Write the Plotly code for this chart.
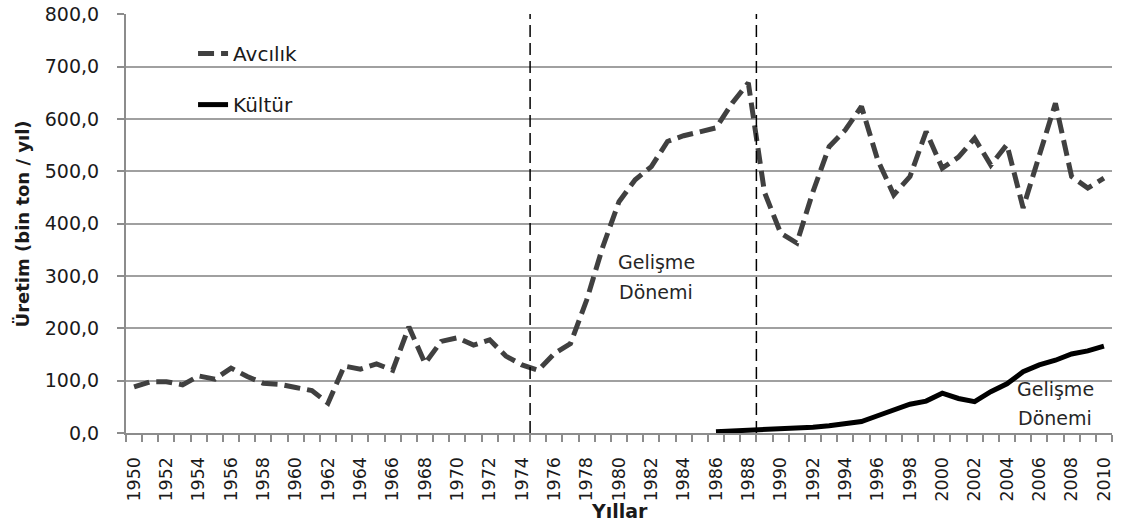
import plotly.graph_objects as go

# ---- data ----
years = list(range(1950, 2011))
avcilik = [88, 98, 98, 92, 109, 103, 124, 108, 95, 93,
           87, 81, 57, 128, 122, 132, 120, 203, 133, 175,
           182, 168, 178, 147, 130, 120, 152, 171, 254, 356,
           442, 484, 509, 557, 568, 576, 583, 630, 669, 460,
           382, 363, 461, 547, 579, 624, 522, 455, 490, 576,
           506, 527, 563, 512, 551, 430, 532, 630, 490, 468, 487]
kultur_years = list(range(1986, 2011))
kultur = [2.5, 3.8, 5, 6, 7.5, 9, 11, 14, 17, 22,
          33, 43, 55, 61, 76, 66, 60, 79, 94, 117,
          130, 139, 151, 157, 166]
tick_years = list(range(1950, 2011, 2))
period_bounds = [1974.5, 1988.5]
period_labels = [("Gelişme", "Dönemi", 1982.3, 326, 270),
                 ("Gelişme", "Dönemi", 2007.0, 84, 28)]

FONT = "DejaVu Sans"
GRID = "#a0a0a0"
AXIS = "#8c8c8c"
TXT = "#1a1a1a"

fig = go.Figure()
fig.add_trace(go.Scatter(
    x=years, y=avcilik, mode="lines", name="Avcılık", legendgroup="a",
    line=dict(color="#404040", width=5, dash="16px,7px")))
fig.add_trace(go.Scatter(
    x=kultur_years, y=kultur, mode="lines", name="Kültür", legendgroup="k",
    line=dict(color="#000000", width=5)))

for b in period_bounds:
    fig.add_shape(type="line", xref="x", yref="paper", x0=b, x1=b, y0=0, y1=1,
                  line=dict(color="#000000", width=1.5, dash="12px,6px"))

annots = []
for l1, l2, xx, y1, y2 in period_labels:
    annots.append(dict(x=xx, y=y1, xref="x", yref="y", text=l1, showarrow=False,
                       font=dict(family=FONT, size=19, color="#262626")))
    annots.append(dict(x=xx, y=y2, xref="x", yref="y", text=l2, showarrow=False,
                       font=dict(family=FONT, size=19, color="#262626")))

# axis titles
annots.append(dict(x=0.5, y=-0.186, xref="paper", yref="paper", text="<b>Yıllar</b>",
                   showarrow=False, xanchor="center", yanchor="middle",
                   font=dict(family=FONT, size=19, color=TXT)))
annots.append(dict(x=-0.1045, y=0.5, xref="paper", yref="paper",
                   text="<b>Üretim (bin ton / yıl)</b>", textangle=-90,
                   showarrow=False, xanchor="center", yanchor="middle",
                   font=dict(family=FONT, size=18, color=TXT)))

fig.update_layout(
    width=1122, height=526,
    margin=dict(l=126, r=10, t=14, b=93),
    paper_bgcolor="white", plot_bgcolor="white",
    separators=",.",
    font=dict(family=FONT, color=TXT),
    annotations=annots,
    showlegend=True,
    legend=dict(x=0.068, y=0.952, xanchor="left", yanchor="top",
                bgcolor="rgba(0,0,0,0)", tracegroupgap=22,
                font=dict(family=FONT, size=20, color=TXT)),
    xaxis=dict(
        range=[1949.5, 2010.5], tickmode="array", tickvals=tick_years,
        ticktext=[str(y) for y in tick_years], tickangle=-90,
        ticks="", showgrid=False, zeroline=False, automargin=False,
        showline=True, linecolor=AXIS, linewidth=2,
        tickfont=dict(family=FONT, size=17.5, color=TXT),
        ticklabelstandoff=15,
        minor=dict(tickmode="linear", tick0=1949.5, dtick=1, ticks="outside",
                   ticklen=7, tickcolor=AXIS, tickwidth=1.5, showgrid=False),
    ),
    yaxis=dict(
        range=[0, 800.6], tickmode="linear", tick0=0, dtick=100, tickformat=".1f",
        ticks="outside", ticklen=7, tickcolor=AXIS, tickwidth=1.5,
        showgrid=True, gridcolor=GRID, gridwidth=1.5, zeroline=False,
        automargin=False, ticklabeloverflow="allow",
        showline=True, linecolor=AXIS, linewidth=2,
        tickfont=dict(family=FONT, size=19, color=TXT),
        ticklabelstandoff=14,
    ),
)

fig.write_html("out.html", config={"displayModeBar": False},
               post_script="document.body.style.margin='0px';document.body.style.padding='0px';")
